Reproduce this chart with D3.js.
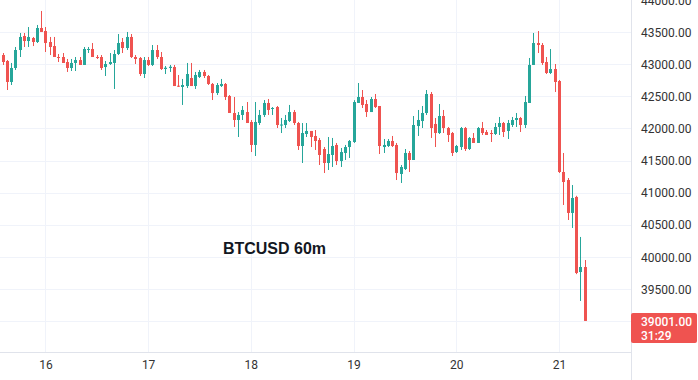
<!DOCTYPE html>
<html>
<head>
<meta charset="utf-8">
<script src="https://cdn.jsdelivr.net/npm/d3@7"></script>
<style>
html,body{margin:0;padding:0;background:#fff;}
svg{display:block;}
</style>
</head>
<body>
<svg id="chart" width="698" height="380"></svg>
<script>
// Hour offset relative to day 16 00:00 for each candle
const hours = d3.range(-10, 127);
const opens = [43143,43050,42723,42941,43221,43439,43361,43408,43346,43564,
43517,43346,43283,43112,43112,43034,42941,43019,43065,42988,
43230,43237,43112,43112,42956,43003,43019,43159,43346,43252,
43424,43112,43097,42847,43065,42988,43221,43112,42925,42941,
42956,42665,42645,42660,42785,42660,42801,42879,42816,42692,
42551,42660,42692,42505,42240,42131,42209,42255,42100,41742,
42084,42209,42396,42302,42333,42053,42053,42115,42255,42084,
41726,41913,41960,41882,41819,41679,41461,41586,41742,41492,
41617,41710,41788,42396,42489,42380,42255,42458,42349,41710,
41726,41804,41742,41290,41368,41617,41508,42037,42115,42240,
42536,42069,41928,42193,42006,41928,41632,41710,42006,41679,
41851,41773,42006,41944,41928,41913,42022,42084,41960,42053,
42131,42162,42053,42396,42988,43330,43299,43034,42863,42925,
42738,41321,41196,40683,40932,39763,39841];
const highs = [43174,43065,43019,43268,43486,43486,43579,43424,43611,43829,
43579,43424,43424,43159,43174,43081,43081,43112,43112,43268,
43268,43330,43143,43143,43050,43174,43221,43470,43408,43502,
43470,43143,43112,43112,43112,43299,43299,43190,42972,42988,
42988,42832,42770,43019,43019,42879,42910,42910,42832,42707,
42707,42770,42707,42520,42489,42255,42349,42411,42131,42411,
42287,42442,42458,42333,42349,42162,42209,42365,42287,42100,
42084,42084,41960,41975,41851,41710,41866,41851,41773,41695,
41742,41819,42440,42707,42598,42442,42489,42536,42349,41835,
41835,41882,41773,41430,41679,41648,42193,42287,42349,42598,
42567,42162,42380,42287,42022,41944,41742,42022,42022,41866,
41928,42022,42100,41975,41975,42084,42178,42100,42131,42178,
42240,42178,42505,43097,43486,43517,43330,43112,43237,43003,
42754,41617,41227,41118,40950,40309,39950];
const lows = [42988,42598,42676,42910,43112,43268,43268,43283,43330,43502,
43190,43143,43112,43034,43019,42879,42894,42894,42988,42988,
43174,43112,43081,42910,42816,42988,42614,43143,43174,43221,
43097,43003,42816,42785,42972,42972,43081,42910,42847,42879,
42660,42645,42365,42629,42660,42614,42785,42785,42676,42442,
42520,42645,42442,42240,42022,41866,42131,42084,41632,41570,
42053,42178,42209,42209,42006,41928,42006,42100,42053,41664,
41461,41866,41710,41664,41430,41305,41352,41399,41430,41399,
41508,41539,41773,42396,42318,42178,42255,42318,41601,41617,
41710,41710,41196,41150,41352,41321,41508,41882,42006,42209,
41851,41710,41913,41928,41788,41570,41617,41664,41648,41664,
41773,41773,41897,41897,41788,41897,41897,41866,41835,42022,
42022,41944,42006,42396,42988,43174,42988,42847,42847,42567,
41305,40807,40573,40449,39730,39312,39001];
const closes = [43034,42723,42941,43221,43424,43361,43424,43346,43564,43502,
43330,43268,43112,43105,43019,42941,43019,43065,42988,43237,
43237,43112,43100,42941,43003,43034,43159,43330,43252,43424,
43112,43081,42847,43065,42988,43221,43112,42925,42945,42960,
42660,42655,42676,42847,42660,42832,42879,42816,42692,42551,
42676,42692,42489,42240,42131,42209,42287,42084,41742,42100,
42209,42396,42287,42318,42053,42060,42131,42255,42084,41726,
41928,41960,41866,41804,41586,41461,41601,41726,41492,41632,
41710,41804,42411,42489,42365,42255,42458,42333,41726,41742,
41804,41726,41305,41399,41617,41508,42053,42131,42240,42536,
42006,41928,42193,42006,41897,41617,41726,42006,41679,41851,
41773,42006,41928,41897,41913,42022,42084,41944,42084,42131,
42162,42053,42411,42988,43330,43299,43019,42863,42925,42723,
41321,41165,40683,40916,39748,39841,39001];

const dayTicks = [0, 24, 48, 72, 96, 120];
const dayLabels = ["16", "17", "18", "19", "20", "21"];
const priceTicks = [39500, 40000, 40500, 41000, 41500, 42000, 42500, 43000, 43500, 44000];
const gridPrices = [39000, 39500, 40000, 40500, 41000, 41500, 42000, 42500, 43000, 43500];
const title = "BTCUSD 60m";
const lastPrice = "39001.00";
const countdown = "31:29";

const candles = hours.map((h, i) => ({h, o: opens[i], hi: highs[i], lo: lows[i], c: closes[i]}));

const W = 698, H = 380, plotRight = 631, plotBottom = 352;
const svg = d3.select("#chart");
const x = d3.scaleLinear().domain([-10, 126]).range([2.6, 584.7]);
const y = d3.scaleLinear().domain([39000, 44000]).range([321, 0]);

const gridColor = "#f0f3fa";
const borderColor = "#e0e3eb";
const up = "#26a69a", down = "#ef5350";
const font = "Roboto, 'Open Sans', sans-serif";

// grid
svg.append("g").selectAll("line.h").data(gridPrices).join("line")
  .attr("x1", 0).attr("x2", plotRight)
  .attr("y1", d => Math.round(y(d)) + 0.5).attr("y2", d => Math.round(y(d)) + 0.5)
  .attr("stroke", gridColor).attr("stroke-width", 1);
svg.append("g").selectAll("line.v").data(dayTicks).join("line")
  .attr("x1", d => Math.round(x(d)) + 0.5).attr("x2", d => Math.round(x(d)) + 0.5)
  .attr("y1", 0).attr("y2", plotBottom)
  .attr("stroke", gridColor).attr("stroke-width", 1);

// title
svg.append("text").attr("x", 274.5).attr("y", 254).attr("text-anchor", "middle")
  .attr("font-family", "'Liberation Sans', Arial, sans-serif").attr("font-weight", "bold")
  .attr("font-size", 16).attr("fill", "#131722").text(title);

// candles
const g = svg.append("g");
g.selectAll("line.wick").data(candles).join("line")
  .attr("x1", d => Math.round(x(d.h)) + 0.5).attr("x2", d => Math.round(x(d.h)) + 0.5)
  .attr("y1", d => y(d.hi)).attr("y2", d => y(d.lo))
  .attr("stroke", d => d.c >= d.o ? up : down).attr("stroke-width", 1);
g.selectAll("rect.body").data(candles).join("rect")
  .attr("x", d => Math.round(x(d.h)) - 1).attr("width", 3)
  .attr("y", d => y(Math.max(d.o, d.c)))
  .attr("height", d => Math.max(1, Math.abs(y(d.o) - y(d.c))))
  .attr("fill", d => d.c >= d.o ? up : down);

// borders
svg.append("line").attr("x1", plotRight + 0.5).attr("x2", plotRight + 0.5).attr("y1", 0).attr("y2", H)
  .attr("stroke", borderColor);
svg.append("line").attr("x1", 0).attr("x2", plotRight).attr("y1", plotBottom + 0.5).attr("y2", plotBottom + 0.5)
  .attr("stroke", borderColor);

// right axis
const yAxis = d3.axisRight(y).tickValues(priceTicks).tickSize(0).tickPadding(0)
  .tickFormat(d => d3.format(".2f")(d));
const ya = svg.append("g").attr("transform", `translate(${plotRight + 10},0)`).call(yAxis);
ya.select(".domain").remove();
ya.selectAll("text").attr("font-family", font).attr("font-size", 12).attr("fill", "#333").attr("dy", "0.35em");

// bottom axis
const xAxis = d3.axisBottom(x).tickValues(dayTicks).tickSize(0).tickPadding(0)
  .tickFormat((d, i) => dayLabels[i]);
const xa = svg.append("g").attr("transform", `translate(0,${plotBottom + 8})`).call(xAxis);
xa.select(".domain").remove();
xa.selectAll("text").attr("font-family", font).attr("font-size", 12).attr("fill", "#333").attr("dy", "0.71em");

// last price tag
const tag = svg.append("g");
tag.append("rect").attr("x", plotRight).attr("y", 313).attr("width", W - plotRight - 1).attr("height", 30)
  .attr("rx", 2).attr("fill", down);
tag.append("text").attr("x", plotRight + 10).attr("y", 326).attr("font-family", font)
  .attr("font-size", 12).attr("font-weight", 500).attr("fill", "#fff").text(lastPrice);
tag.append("text").attr("x", plotRight + 10).attr("y", 339.5).attr("font-family", font)
  .attr("font-size", 12).attr("font-weight", 500).attr("fill", "#fff").text(countdown);
</script>
</body>
</html>
